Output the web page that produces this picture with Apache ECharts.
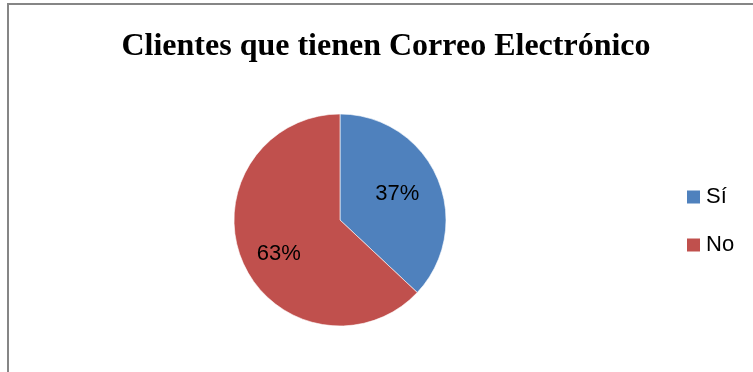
<!DOCTYPE html>
<html>
<head>
<meta charset="utf-8">
<script src="https://cdn.jsdelivr.net/npm/echarts@6/dist/echarts.min.js"></script>
<style>
	html, body { margin: 0; padding: 0; background: #fff; }
	#chart { width: 753px; height: 372px; }
</style>
</head>
<body>
<div id="chart"></div>
<script>
	//   datos
	var categorias = ['Sí', 'No'];
	var valores = [37, 63];
	var colores = ['#4F81BD', '#C0504D'];

	var datos = [];
	for (var i = 0; i < categorias.length; i++) {
		datos.push({ name: categorias[i], value: valores[i], itemStyle: { color: colores[i] } });
	}

	//   ajuste fino de las etiquetas (como en Excel)
	var ajusteEtiquetas = [[-6, 1], [2, 7]];

	var myChart = echarts.init(document.getElementById('chart'));

	var option = {
		animation: false,
		title: {
			text: 'Clientes que tienen Correo Electrónico',
			left: 381,
			top: 26,
			textAlign: 'center',
			textStyle: {
				fontFamily: 'Liberation Serif',
				fontWeight: 'bold',
				fontSize: 32,
				color: '#000'
			}
		},
		legend: {
			orient: 'vertical',
			left: 680,
			top: 186,
			padding: [0, 5],
			itemWidth: 15,
			itemHeight: 15,
			itemGap: 26,
			icon: 'rect',
			data: categorias,
			textStyle: {
				fontFamily: 'Liberation Sans',
				fontSize: 22,
				lineHeight: 22,
				color: '#000'
			}
		},
		graphic: [{
			type: 'polyline',
			shape: { points: [[8, 372], [8, 4], [753, 4]] },
			style: { stroke: '#868686', lineWidth: 2, fill: null }
		}],
		series: [{
			type: 'pie',
			center: [340, 220],
			radius: 106,
			startAngle: 90,
			clockwise: true,
			data: datos,
			label: { show: false },
			labelLine: { show: false },
			itemStyle: { borderColor: '#ffffff', borderWidth: 0.6 }
		}, {
			//   etiquetas (serie transparente)
			type: 'pie',
			center: [340, 220],
			radius: 132,
			startAngle: 90,
			clockwise: true,
			silent: true,
			data: categorias.map(function (c, i) {
				return { name: c, value: valores[i], label: { offset: ajusteEtiquetas[i] } };
			}),
			itemStyle: { color: 'rgba(0,0,0,0)' },
			label: {
				show: true,
				position: 'inside',
				formatter: '{d}%',
				fontFamily: 'Liberation Sans',
				fontSize: 22,
				color: '#000'
			},
			labelLine: { show: false }
		}]
	};

	myChart.setOption(option);
</script>
</body>
</html>
